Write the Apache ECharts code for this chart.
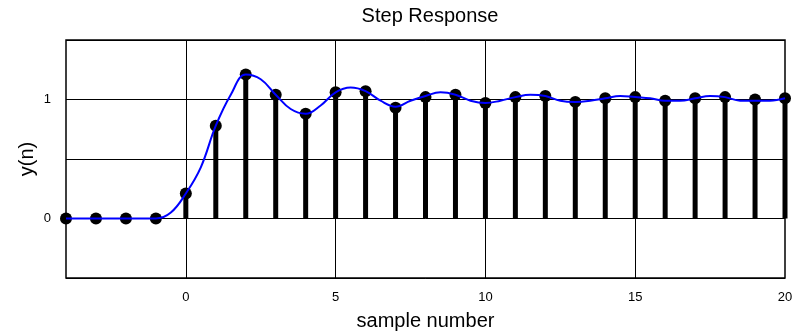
<!DOCTYPE html>
<html>
<head>
<meta charset="utf-8">
<script src="https://cdn.jsdelivr.net/npm/echarts@6/dist/echarts.min.js"></script>
<style>html,body{margin:0;padding:0;background:#fff}#c{width:808px;height:336px}</style>
</head>
<body>
<div id="c"></div>
<script>
// sample index n and stem values y(n)
var sampleN = [-4,-3,-2,-1,0,1,2,3,4,5,6,7,8,9,10,11,12,13,14,15,16,17,18,19,20];
var sampleY = [0,0,0,0,0.21,0.78,1.21,1.04,0.88,1.06,1.07,0.93,1.02,1.04,0.97,1.02,1.03,0.98,1.01,1.02,0.99,1.01,1.02,1.00,1.01];
// continuous (blue) response at half-sample spacing
var curveX = [-4,-3.5,-3,-2.5,-2,-1.5,-1,-0.5,0,0.5,1,1.5,2,2.5,3,3.5,4,4.5,5,5.5,6,6.5,7,7.5,8,8.5,9,9.5,10,10.5,11,11.5,12,12.5,13,13.5,14,14.5,15,15.5,16,16.5,17,17.5,18,18.5,19,19.5,20];
var curveY = [0,0,0,0,0,0,0,0.05,0.21,0.43,0.78,1.04,1.21,1.17,1.04,0.92,0.88,0.95,1.06,1.10,1.07,0.99,0.94,0.99,1.03,1.06,1.04,0.99,0.97,0.99,1.02,1.04,1.03,0.99,0.98,0.99,1.01,1.03,1.02,1.01,0.99,0.99,1.01,1.03,1.02,0.99,0.99,0.99,1.01];
var xTickLabels = [0,5,10,15,20];
var yTickLabels = [0,1];
var xGridValues = [0,5,10,15];

var font = 'Liberation Sans, Arial, Helvetica, sans-serif';
var stems = sampleN.map(function(n,i){return [n, sampleY[i]];});
var dots = stems.slice();
var curve = curveX.map(function(x,i){return [x, curveY[i]];});

var chart = echarts.init(document.getElementById('c'), null, {renderer:'canvas'});
chart.setOption({
  animation:false,
  backgroundColor:'#fff',
  textStyle:{fontFamily:font},
  title:{text:'Step Response', left:425, textAlign:'center', top:1,
    textStyle:{fontSize:20, fontWeight:'normal', color:'#000', fontFamily:font}},
  grid:{left:66, right:23, top:40, bottom:57, show:true, borderColor:'#000', borderWidth:1.5, backgroundColor:'#fff'},
  xAxis:{type:'value', min:-4, max:20, interval:1,
    name:'sample number', nameLocation:'middle', nameGap:33, nameMoveOverlap:false,
    nameTextStyle:{fontSize:20, color:'#000', fontFamily:font},
    axisLine:{show:false}, axisTick:{show:false}, splitLine:{show:false},
    axisLabel:{fontSize:13, color:'#000', margin:13, fontFamily:font,
      formatter:function(v){return xTickLabels.indexOf(v)>=0 ? String(v) : '';}}},
  yAxis:{type:'value', min:-0.5, max:1.5, interval:0.5,
    name:'y(n)', nameLocation:'middle', nameGap:29, nameMoveOverlap:false,
    nameTextStyle:{fontSize:20, color:'#000', fontFamily:font},
    axisLine:{show:false}, axisTick:{show:false},
    splitLine:{show:true, lineStyle:{color:'#000', width:1}},
    axisLabel:{fontSize:13, color:'#000', margin:15, padding:[7,0,0,0], fontFamily:font,
      formatter:function(v){return yTickLabels.indexOf(v)>=0 ? String(v) : '';}}},
  series:[
    {type:'line', data:[], silent:true,
      markLine:{silent:true, symbol:'none', label:{show:false},
        lineStyle:{color:'#000', width:1, type:'solid'},
        data:xGridValues.map(function(v){return {xAxis:v};})}},
    {type:'bar', data:stems, barWidth:5, itemStyle:{color:'#000'}, z:3, silent:true},
    {type:'scatter', data:dots, symbol:'circle', symbolSize:12, itemStyle:{color:'#000', opacity:1}, z:4, silent:true},
    {type:'line', data:curve, smooth:0.4, showSymbol:false, lineStyle:{color:'#0000ff', width:2}, z:5, silent:true}
  ]
});
</script>
</body>
</html>
